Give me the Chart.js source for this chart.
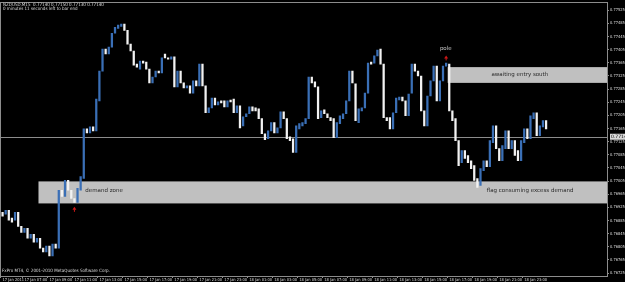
<!DOCTYPE html>
<html>
<head>
<meta charset="utf-8">
<script src="https://cdn.jsdelivr.net/npm/chart.js@4.4.0/dist/chart.umd.min.js"></script>
<style>
  html, body { margin: 0; padding: 0; background: #000; }
  #wrap { width: 625px; height: 282px; position: relative; }
</style>
</head>
<body>
<div id="wrap"><canvas id="chart"></canvas></div>
<script>
// NZDUSD M15, 17 Jan 2011 05:15 onwards
const opens = [
  0.76910,0.76904,0.76916,0.76892,0.76886,0.76910,0.76867,0.76849,0.76861,0.76831,
  0.76843,0.76819,0.76831,0.76801,0.76789,0.76807,0.76777,0.76813,0.76801,0.76977,
  0.76958,0.77007,0.76977,0.76952,0.76940,0.76977,0.77013,0.77164,0.77152,0.77170,
  0.77158,0.77249,0.77340,0.77407,0.77392,0.77413,0.77455,0.77470,0.77476,0.77483,
  0.77464,0.77422,0.77401,0.77361,0.77346,0.77370,0.77367,0.77346,0.77304,0.77322,
  0.77340,0.77334,0.77392,0.77380,0.77376,0.77383,0.77292,0.77340,0.77304,0.77289,
  0.77295,0.77273,0.77310,0.77295,0.77361,0.77295,0.77213,0.77228,0.77258,0.77237,
  0.77249,0.77249,0.77231,0.77252,0.77255,0.77213,0.77234,0.77173,0.77201,0.77210,
  0.77231,0.77228,0.77225,0.77195,0.77149,0.77134,0.77158,0.77183,0.77152,0.77167,
  0.77216,0.77195,0.77140,0.77134,0.77092,0.77164,0.77173,0.77180,0.77195,0.77322,
  0.77307,0.77292,0.77198,0.77222,0.77210,0.77198,0.77195,0.77137,0.77180,0.77195,
  0.77210,0.77249,0.77340,0.77301,0.77183,0.77219,0.77228,0.77273,0.77367,0.77364,
  0.77386,0.77407,0.77361,0.77198,0.77198,0.77164,0.77213,0.77252,0.77261,0.77249,
  0.77204,0.77273,0.77361,0.77340,0.77325,0.77219,0.77173,0.77264,0.77310,0.77355,
  0.77249,0.77310,0.77355,0.77361,0.77219,0.77195,0.77128,0.77061,0.77098,0.77083,
  0.77067,0.77052,0.77013,0.76992,0.77037,0.77067,0.77049,0.77122,0.77173,0.77104,
  0.77067,0.77104,0.77158,0.77104,0.77128,0.77098,0.77067,0.77122,0.77164,0.77134,
  0.77195,0.77213,0.77143,0.77170,0.77189
];
const closes = [
  0.76898,0.76916,0.76886,0.76880,0.76910,0.76867,0.76849,0.76861,0.76831,0.76843,
  0.76819,0.76831,0.76801,0.76789,0.76807,0.76777,0.76813,0.76801,0.76977,0.76958,
  0.77007,0.76977,0.76952,0.76940,0.76983,0.77019,0.77164,0.77152,0.77170,0.77158,
  0.77255,0.77340,0.77407,0.77392,0.77413,0.77455,0.77473,0.77480,0.77483,0.77464,
  0.77422,0.77401,0.77358,0.77352,0.77370,0.77364,0.77346,0.77304,0.77322,0.77340,
  0.77334,0.77380,0.77380,0.77376,0.77383,0.77292,0.77340,0.77304,0.77289,0.77295,
  0.77273,0.77310,0.77295,0.77361,0.77295,0.77213,0.77228,0.77258,0.77237,0.77246,
  0.77243,0.77231,0.77249,0.77246,0.77213,0.77234,0.77167,0.77201,0.77210,0.77231,
  0.77219,0.77219,0.77195,0.77149,0.77131,0.77158,0.77183,0.77152,0.77167,0.77216,
  0.77195,0.77134,0.77128,0.77092,0.77173,0.77180,0.77183,0.77195,0.77322,0.77304,
  0.77292,0.77195,0.77219,0.77210,0.77198,0.77189,0.77137,0.77183,0.77204,0.77210,
  0.77249,0.77340,0.77304,0.77189,0.77225,0.77228,0.77273,0.77364,0.77361,0.77386,
  0.77404,0.77361,0.77198,0.77189,0.77164,0.77213,0.77258,0.77261,0.77249,0.77204,
  0.77270,0.77361,0.77340,0.77325,0.77219,0.77173,0.77264,0.77310,0.77355,0.77249,
  0.77310,0.77355,0.77364,0.77219,0.77189,0.77128,0.77052,0.77098,0.77074,0.77061,
  0.77043,0.77007,0.76986,0.77043,0.77067,0.77049,0.77128,0.77173,0.77104,0.77067,
  0.77113,0.77158,0.77104,0.77128,0.77083,0.77067,0.77128,0.77164,0.77134,0.77204,
  0.77213,0.77143,0.77173,0.77189,0.77164
];

const slotCount = 194; // bars + empty shift area on the right
const timeTickBars = [0, 7, 15, 23, 31, 39, 47, 55, 63, 71, 79, 87, 95, 103, 111, 119, 127, 135, 143, 151, 159, 167];
const timeTickText = [
  "17 Jan 2011", "17 Jan 07:00", "17 Jan 09:00", "17 Jan 11:00", "17 Jan 13:00", "17 Jan 15:00",
  "17 Jan 17:00", "17 Jan 19:00", "17 Jan 21:00", "17 Jan 23:00", "18 Jan 01:00", "18 Jan 03:00",
  "18 Jan 05:00", "18 Jan 07:00", "18 Jan 09:00", "18 Jan 11:00", "18 Jan 13:00", "18 Jan 15:00",
  "18 Jan 17:00", "18 Jan 19:00", "18 Jan 21:00", "18 Jan 23:00"
];
const priceTicks = [
  0.76725, 0.76765, 0.76805, 0.76845, 0.76885, 0.76925, 0.76965, 0.77005, 0.77045, 0.77085, 0.77125,
  0.77165, 0.77205, 0.77245, 0.77285, 0.77325, 0.77365, 0.77405, 0.77445, 0.77485, 0.77525
];
const priceMin = 0.76716;
const priceMax = 0.77546;
const bidPrice = 0.77140;

// drawn objects: rectangles and text
const zoneNames = ["demand zone", "awaiting entry south"];
const zoneFromBar = [11.5, 142.5];
const zoneTop = [0.77004, 0.77352];
const zoneBottom = [0.76937, 0.77304];
const noteText = ["demand zone", "flag consuming excess demand", "awaiting entry south", "pole"];
const noteBar = [26.5, 155, 156.5, 140];
const notePrice = [0.76977, 0.76977, 0.77328, 0.77407];
const arrowBar = [23, 142];
const arrowPrice = [0.76919, 0.77380];

const headerLines = ["NZDUSD,M15  0.77140 0.77150 0.77130 0.77140", "0 minutes 11 seconds left to bar end"];
const footerText = "FxPro MT4, \u00a9 2001-2010 MetaQuotes Software Corp.";

let labels = Array(slotCount).fill("");
timeTickBars.forEach((b, k) => { labels[b] = timeTickText[k]; });

let bodies = opens.map((o, i) => [o, closes[i]]);
let bodyColors = opens.map((o, i) => (closes[i] >= o ? "#3a6fb6" : "#f2f2f2"));

const smallFont = { family: "'DejaVu Sans Condensed', 'Liberation Sans Narrow', 'DejaVu Sans'", size: 4 };

const overlay = {
  id: "overlay",
  beforeDatasetsDraw(chart) {
    const { ctx, chartArea: a, scales: { x, y } } = chart;
    ctx.save();
    ctx.fillStyle = "#c0c0c0";
    zoneNames.forEach((n, k) => {
      const x0 = x.getPixelForValue(zoneFromBar[k]);
      const y0 = y.getPixelForValue(zoneTop[k]);
      const y1 = y.getPixelForValue(zoneBottom[k]);
      ctx.fillRect(x0, y0, a.right - x0, y1 - y0);
    });
    // bid line
    const by = Math.round(y.getPixelForValue(bidPrice)) + 0.5;
    ctx.strokeStyle = "#8c8c8c";
    ctx.lineWidth = 1;
    ctx.beginPath();
    ctx.moveTo(a.left, by);
    ctx.lineTo(a.right, by);
    ctx.stroke();
    ctx.restore();
  },
  afterDraw(chart) {
    const { ctx, chartArea: a, scales: { x, y } } = chart;
    ctx.save();
    // frame
    ctx.strokeStyle = "#8c8c8c";
    ctx.lineWidth = 1;
    ctx.strokeRect(Math.round(a.left) - 0.5, Math.round(a.top) - 0.5, Math.round(a.right - a.left) + 1, Math.round(a.bottom - a.top) + 1);

    ctx.font = "5.5px 'DejaVu Sans'";
    ctx.textBaseline = "middle";
    ctx.textAlign = "left";
    noteText.forEach((t, k) => {
      ctx.fillStyle = t === "pole" ? "#c8c8c8" : "#2a2a2a";
      ctx.fillText(t, x.getPixelForValue(noteBar[k]), y.getPixelForValue(notePrice[k]));
    });

    ctx.fillStyle = "#d01818";
    arrowBar.forEach((b, k) => {
      const px = x.getPixelForValue(b);
      const py = y.getPixelForValue(arrowPrice[k]);
      ctx.beginPath();
      ctx.moveTo(px, py - 2.5);
      ctx.lineTo(px + 2, py + 0.5);
      ctx.lineTo(px - 2, py + 0.5);
      ctx.closePath();
      ctx.fill();
      ctx.fillRect(px - 0.5, py, 1, 2.5);
    });

    // current price box on the price scale
    const by = y.getPixelForValue(bidPrice);
    ctx.fillStyle = "#d8d8d8";
    ctx.fillRect(a.right + 3, by - 3, 16, 6);
    ctx.fillStyle = "#000";
    ctx.font = "4.5px 'DejaVu Sans'";
    ctx.fillText(bidPrice.toFixed(5), a.right + 4, by);

    ctx.fillStyle = "#dcdcdc";
    ctx.textBaseline = "top";
    ctx.font = "4.5px 'DejaVu Sans Condensed', 'DejaVu Sans'";
    ctx.fillText(headerLines[0], 3, 2.5);
    ctx.fillText(headerLines[1], 3, 7);
    ctx.fillText(footerText, 2, 269);
    ctx.restore();
  }
};

new Chart(document.getElementById("chart"), {
  type: "bar",
  data: {
    labels: labels,
    datasets: [
      {
        label: "NZDUSD",
        data: bodies,
        backgroundColor: bodyColors,
        borderWidth: 0,
        barThickness: 1.6,
        minBarLength: 1,
      },
    ],
  },
  options: {
    responsive: true,
    maintainAspectRatio: false,
    animation: false,
    layout: { padding: { left: 1, top: 2, right: 0, bottom: 0 } },
    plugins: { legend: { display: false }, tooltip: { enabled: false } },
    scales: {
      x: {
        type: "category",
        offset: true,
        border: { display: false },
        grid: {
          drawOnChartArea: false,
          tickLength: 2,
          color: (c) => (c.index !== undefined && labels[c.index] ? "#8c8c8c" : "rgba(0,0,0,0)"),
        },
        ticks: {
          autoSkip: false,
          maxRotation: 0,
          minRotation: 0,
          align: "start",
          padding: 0,
          color: "#dcdcdc",
          font: smallFont,
        },
        afterFit: (s) => { s.height = 6; },
      },
      y: {
        position: "right",
        min: priceMin,
        max: priceMax,
        border: { display: false },
        grid: { drawOnChartArea: false, tickLength: 2, color: "#8c8c8c" },
        ticks: {
          padding: 1,
          color: "#dcdcdc",
          font: smallFont,
          callback: (v) => Number(v).toFixed(5),
        },
        afterBuildTicks: (axis) => {
          axis.ticks = priceTicks.map((v) => ({ value: v }));
        },
        afterFit: (s) => { s.width = 18; },
      },
    },
  },
  plugins: [overlay],
});
</script>
</body>
</html>
